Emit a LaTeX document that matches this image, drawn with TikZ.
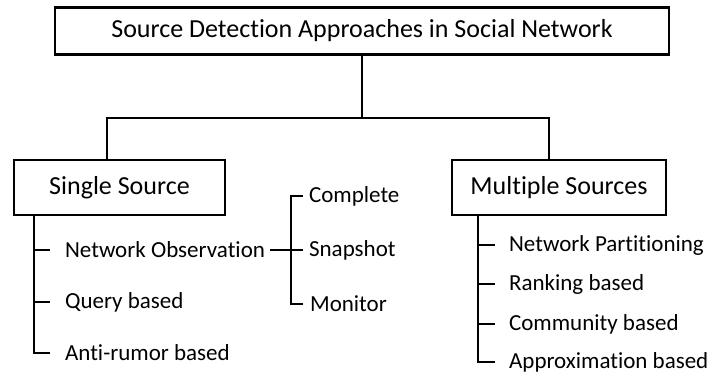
\documentclass[tikz,border=0pt]{standalone}
\usepackage{fontspec}
\setmainfont{Carlito}[Ligatures=NoCommon]
\begin{document}
\begin{tikzpicture}[x=1pt,y=-1pt,line width=2.2pt,
    box/.style={draw,inner sep=0pt,font=\fontsize{26}{30}\selectfont},
    leaf/.style={anchor=west,inner sep=0pt,font=\fontsize{23}{27}\selectfont}]
    \useasboundingbox (0,0) rectangle (711,376);
    \node[box,minimum width=614pt,minimum height=47pt] (root) at (362,31) {Source Detection Approaches in Social Network};
    \node[box,minimum width=211pt,minimum height=55pt] (single) at (119.5,187.5) {Single Source};
    \node[box,minimum width=214pt,minimum height=55pt] (multi) at (559,187.5) {Multiple Sources};
    \node[leaf] (netobs) at (64,250) {Network Observation};
    \node[leaf] (query) at (64,302) {Query based};
    \node[leaf] (antirumor) at (64,353) {Anti-rumor based};
    \node[leaf] (complete) at (308,196) {Complete};
    \node[leaf] (snapshot) at (308,250) {Snapshot};
    \node[leaf] (monitor) at (309,304) {Monitor};
    \node[leaf] (partition) at (508,245) {Network Partitioning};
    \node[leaf] (ranking) at (508,284) {Ranking based};
    \node[leaf] (community) at (508,324) {Community based};
    \node[leaf] (approx) at (508,362) {Approximation based};
    \coordinate (hub) at (362,118);
    \coordinate (lhub) at (107,118);
    \coordinate (rhub) at (549,118);
    \draw (root.south) -- (hub);
    \draw (lhub |- single.north) -- (lhub) -- (rhub) -- (rhub |- multi.north);
    % single source branches
    \coordinate (ltop) at (34,0);
    \draw (ltop |- single.south) |- ([xshift=-14pt]antirumor.west);
    \draw ([xshift=-30pt]netobs.west) -- ([xshift=-14pt]netobs.west);
    \draw ([xshift=-30pt]query.west) -- ([xshift=-14pt]query.west);
    % observation types
    \coordinate (bar) at (291,0);
    \draw ([xshift=-5pt]complete.west) -| (bar |- monitor.west) -- ([xshift=-6pt]monitor.west);
    \draw ([xshift=4pt]netobs.east) -- ([xshift=-5pt]snapshot.west);
    % multiple sources branches
    \coordinate (rtop) at (478,0);
    \draw (rtop |- multi.south) |- ([xshift=-13pt]approx.west);
    \draw ([xshift=-30pt]partition.west) -- ([xshift=-13pt]partition.west);
    \draw ([xshift=-30pt]ranking.west) -- ([xshift=-13pt]ranking.west);
    \draw ([xshift=-30pt]community.west) -- ([xshift=-13pt]community.west);
\end{tikzpicture}
\end{document}
